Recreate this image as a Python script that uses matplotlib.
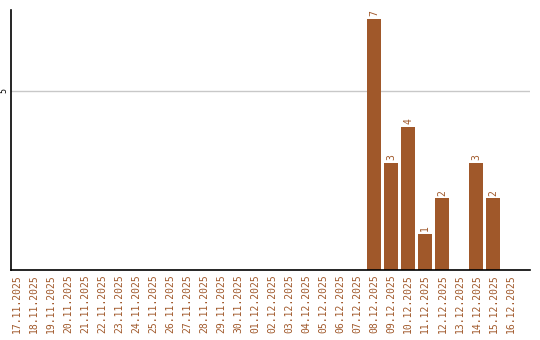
import matplotlib
matplotlib.use("Agg")
import matplotlib.pyplot as plt

# data: daily counts 17.11.2025 .. 16.12.2025
dates = ["17.11.2025", "18.11.2025", "19.11.2025", "20.11.2025", "21.11.2025",
         "22.11.2025", "23.11.2025", "24.11.2025", "25.11.2025", "26.11.2025",
         "27.11.2025", "28.11.2025", "29.11.2025", "30.11.2025", "01.12.2025",
         "02.12.2025", "03.12.2025", "04.12.2025", "05.12.2025", "06.12.2025",
         "07.12.2025", "08.12.2025", "09.12.2025", "10.12.2025", "11.12.2025",
         "12.12.2025", "13.12.2025", "14.12.2025", "15.12.2025", "16.12.2025"]
counts = [0, 0, 0, 0, 0, 0, 0, 0, 0, 0,
          0, 0, 0, 0, 0, 0, 0, 0, 0, 0,
          0, 7, 3, 4, 1, 2, 0, 3, 2, 0]
y_ticks = [5]

BAR = "#a0582a"

fig = plt.figure(figsize=(5.4, 3.4), dpi=100)
ax = fig.add_axes([11 / 540, 1 - 270 / 340, 519 / 540, 260 / 340])

x = range(len(dates))
ax.bar(x, counts, width=0.82, color=BAR, zorder=2)

for i, v in zip(x, counts):
    if v > 0:
        ax.text(i, v + 0.08, str(v), rotation=90, ha="center", va="bottom",
                fontsize=7, color=BAR, family="DejaVu Sans Mono")

ax.set_xlim(-0.35, 30.15)
ax.set_ylim(0, 7.26)
ax.set_xticks(list(x))
ax.set_xticklabels(dates, rotation=90, fontsize=7, color=BAR,
                   family="DejaVu Sans Mono")
ax.set_yticks(y_ticks)
ax.set_yticklabels([str(t) for t in y_ticks], rotation=90, fontsize=6,
                   va="center", family="DejaVu Sans Mono")
ax.tick_params(axis="both", length=0, pad=3)
ax.tick_params(axis="y", pad=2)
ax.grid(axis="y", color="#c8c8c8", linewidth=1, zorder=0)

ax.spines["top"].set_visible(False)
ax.spines["right"].set_visible(False)
ax.spines["left"].set_linewidth(1.2)
ax.spines["bottom"].set_linewidth(1.2)

fig.savefig("out.png", dpi=100, facecolor="white")
